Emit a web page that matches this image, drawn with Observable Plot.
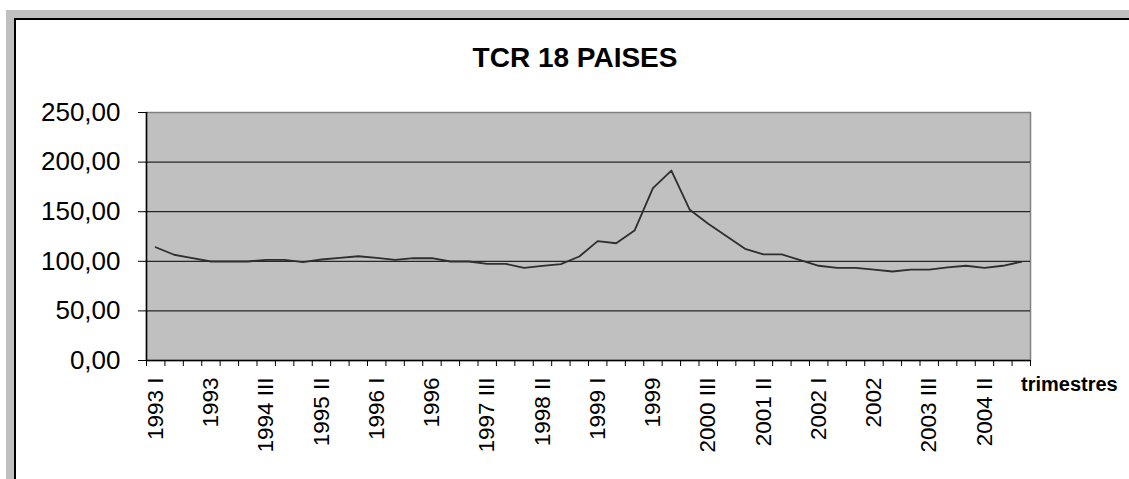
<!DOCTYPE html>
<html><head><meta charset="utf-8">
<script src="https://cdn.jsdelivr.net/npm/d3@7"></script>
<script src="https://cdn.jsdelivr.net/npm/@observablehq/plot@0.6"></script>
<style>
html,body{margin:0;padding:0;background:#fff;width:1129px;height:479px;overflow:hidden;}
#outer{position:absolute;left:6px;top:10px;width:1123px;height:469px;background:#c0c0c0;}
#inner{position:absolute;left:14px;top:18px;width:1115px;height:461px;background:#fff;border-top:2px solid #000;border-left:2px solid #000;box-sizing:border-box;}
#chart{position:absolute;left:0;top:0;}
</style></head><body>
<div id="outer"></div><div id="inner"></div><div id="chart"></div>
<script>
const years = [1993,1994,1995,1996,1997,1998,1999,2000,2001,2002,2003,2004];
const romans = ["I","II","III","IV"];
const quarters = years.flatMap(y => romans.map(r => `${y} ${r}`));
const tcr = [114.2,106.6,103.1,99.8,99.8,99.8,101.5,101.5,99.1,101.8,
             103.5,105.1,103.5,101.5,103.1,103.1,99.8,99.8,97.5,97.5,
             93.4,95.4,97.1,104.8,120.3,118.2,131.0,173.7,191.5,151.9,
             137.8,125.3,112.6,106.9,106.9,101.1,95.5,93.4,93.4,91.7,
             89.7,91.7,91.7,93.8,95.5,93.4,95.5,99.5];
const tickLabels = ["1993 I","1993","1994 III","1995 II","1996 I","1996","1997 III","1998 II",
                    "1999 I","1999","2000 III","2001 II","2002 I","2002","2003 III","2004 II"];
const yTicks = [0,50,100,150,200,250];
const title = "TCR 18 PAISES";
const xTitle = "trimestres";

const data = quarters.map((q,i)=>({q, i, v: tcr[i]}));
const labelPos = new Map(tickLabels.map((t,k)=>[k*3+0.5, t]));
const fmt = d => d3.format(".2f")(d).replace(".", ",");

const plot = Plot.plot({
  width:1129, height:479, marginLeft:146, marginRight:99, marginTop:112, marginBottom:119,
  style:{background:"transparent", fontFamily:"'Liberation Sans', Arial, sans-serif", color:"#000"},
  x:{domain:[0, quarters.length]},
  y:{domain:[0,250]},
  marks:[
    Plot.frame({fill:"#c0c0c0", stroke:"#808080", strokeWidth:1.5}),
    Plot.ruleY(yTicks.filter(d=>d>0 && d<250), {stroke:"#000", strokeWidth:1}),
    Plot.line(data, {x: d=>d.i+0.5, y:"v", stroke:"#2e2e2e", strokeWidth:1.8}),
    Plot.ruleX([0], {stroke:"#000", strokeWidth:1.5}),
    Plot.ruleY([0], {stroke:"#000", strokeWidth:1.5}),
    Plot.axisY({ticks:yTicks, tickFormat:fmt, tickSize:8, tickPadding:18, fontSize:26, label:null}),
    Plot.axisX({ticks:d3.range(quarters.length+1), tickSize:6, tickFormat:()=>"", label:null}),
    Plot.axisX({ticks:[...labelPos.keys()], tickFormat:d=>labelPos.get(d), tickSize:0, tickPadding:17, tickRotate:-90, fontSize:22.5, label:null})
  ]
});
const svg = d3.select(plot);
svg.append("text").attr("x",575).attr("y",67).attr("text-anchor","middle")
  .attr("font-weight","bold").attr("font-size",28).attr("fill","#000").text(title);
svg.append("text").attr("x",1021).attr("y",391).attr("text-anchor","start")
  .attr("font-weight","bold").attr("font-size",20).attr("fill","#000").text(xTitle);
document.getElementById("chart").appendChild(plot);
</script>
</body></html>
